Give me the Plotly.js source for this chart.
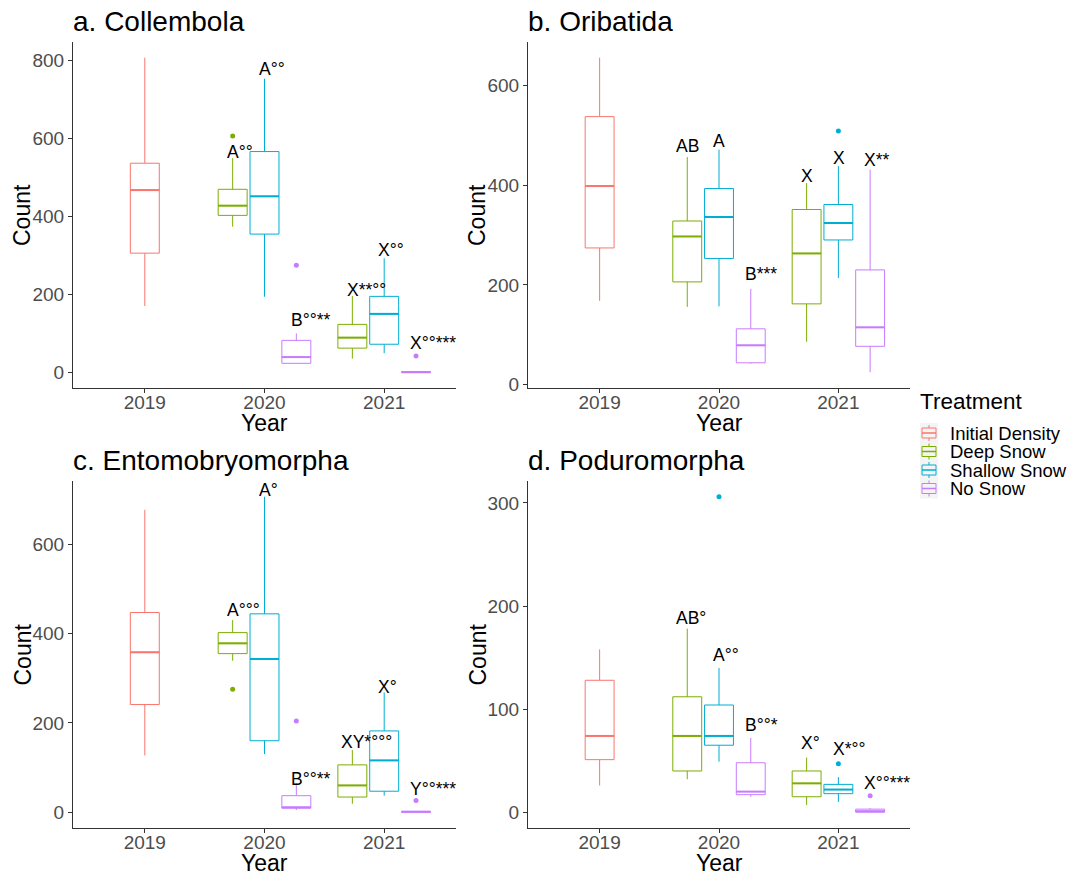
<!DOCTYPE html>
<html><head><meta charset="utf-8">
<script src="https://cdn.plot.ly/plotly-3.0.1.min.js"></script>
<style>html,body{margin:0;padding:0;background:#fff}</style>
</head><body><div id="chart" style="width:1070px;height:875px"></div>
<script>
// ---------- data ----------
const years = ['2019', '2020', '2021'];
const treatments = ['Initial Density', 'Deep Snow', 'Shallow Snow', 'No Snow'];
const boxYear = ['2019', '2020', '2020', '2020', '2021', '2021', '2021'];
const boxTreatment = ['Initial Density', 'Deep Snow', 'Shallow Snow', 'No Snow', 'Deep Snow', 'Shallow Snow', 'No Snow'];

// a. Collembola
const collLow  = [170, 374, 194, 23, 35, 49, 0];
const collQ1   = [306, 403, 355, 23, 62, 72, 0];
const collMed  = [468, 428, 452, 39, 89, 150, 0];
const collQ3   = [537, 470, 567, 82, 123, 195, 2];
const collHigh = [808, 550, 754, 100, 196, 293, 2];
const collOutYear = ['2020', '2020', '2021'];
const collOutTreatment = ['Deep Snow', 'No Snow', 'No Snow'];
const collOutValue = [607, 275, 42];
const collLabel  = ['', 'A°°', 'A°°', 'B°°**', 'X**°°', 'X°°', 'X°°***'];
const collLabelY = [null, 567, 778, 135, 211, 314, 75];

// b. Oribatida
const oribLow  = [168, 156, 157, 42, 86, 214, 25];
const oribQ1   = [274, 206, 253, 44, 162, 290, 77];
const oribMed  = [398, 297, 336, 79, 263, 324, 115];
const oribQ3   = [537, 328, 393, 112, 351, 361, 230];
const oribHigh = [655, 456, 471, 192, 404, 438, 431];
const oribOutYear = ['2021'];
const oribOutTreatment = ['Shallow Snow'];
const oribOutValue = [508];
const oribLabel  = ['', 'AB', 'A', 'B***', 'X', 'X', 'X**'];
const oribLabelY = [null, 478, 488, 222, 419, 454, 451];

// c. Entomobryomorpha
const entoLow  = [127, 339, 130, 5, 19, 37, 0];
const entoQ1   = [241, 355, 160, 9, 34, 47, 0];
const entoMed  = [358, 378, 343, 11, 60, 116, 1];
const entoQ3   = [447, 402, 444, 37, 106, 182, 2];
const entoHigh = [677, 430, 706, 65, 139, 268, 3];
const entoOutYear = ['2020', '2020', '2021'];
const entoOutTreatment = ['Deep Snow', 'No Snow', 'No Snow'];
const entoOutValue = [275, 204, 26];
const entoLabel  = ['', 'A°°°', 'A°', 'B°°**', 'XY*°°°', 'X°', 'Y°°***'];
const entoLabelY = [null, 452, 721, 75, 157, 280, 51];

// d. Poduromorpha
const poduLow  = [26, 32, 49, 15, 7, 10, 0];
const poduQ1   = [51, 40, 65, 17, 15, 18, 0];
const poduMed  = [74, 74, 74, 20, 28, 22, 1];
const poduQ3   = [128, 112, 104, 48, 40, 27, 3];
const poduHigh = [158, 178, 140, 72, 53, 34, 4];
const poduOutYear = ['2020', '2021', '2021'];
const poduOutTreatment = ['Shallow Snow', 'Shallow Snow', 'No Snow'];
const poduOutValue = [306, 47, 16];
const poduLabel  = ['', 'AB°', 'A°°', 'B°°*', 'X°', 'X*°°', 'X°°***'];
const poduLabelY = [null, 188, 153, 85, 67, 61, 28];

const panelTitles = ['a. Collembola', 'b. Oribatida', 'c. Entomobryomorpha', 'd. Poduromorpha'];
const legendTitle = 'Treatment';

// ---------- styling ----------
const W = 1070, H = 875;
const FONT = 'Liberation Sans, Arial, sans-serif';
const colors = {'Initial Density': '#F8766D', 'Deep Snow': '#7CAE00', 'Shallow Snow': '#00AED3', 'No Snow': '#C77CFF'};
const DODGE = 0.266, BOX_W = 0.242, LABEL_SIZE = 17.5;

const panels = [
  {low: collLow, q1: collQ1, med: collMed, q3: collQ3, high: collHigh, oy: collOutYear, ot: collOutTreatment, ov: collOutValue, lab: collLabel, laby: collLabelY, xs: [73, 456], ys: [42, 388], dtick: 200},
  {low: oribLow, q1: oribQ1, med: oribMed, q3: oribQ3, high: oribHigh, oy: oribOutYear, ot: oribOutTreatment, ov: oribOutValue, lab: oribLabel, laby: oribLabelY, xs: [528, 910], ys: [42, 388], dtick: 200},
  {low: entoLow, q1: entoQ1, med: entoMed, q3: entoQ3, high: entoHigh, oy: entoOutYear, ot: entoOutTreatment, ov: entoOutValue, lab: entoLabel, laby: entoLabelY, xs: [73, 456], ys: [481, 828], dtick: 200},
  {low: poduLow, q1: poduQ1, med: poduMed, q3: poduQ3, high: poduHigh, oy: poduOutYear, ot: poduOutTreatment, ov: poduOutValue, lab: poduLabel, laby: poduLabelY, xs: [528, 910], ys: [481, 828], dtick: 100}
];

// dodge positions (like ggplot position_dodge)
const boxPos = boxYear.map((y, i) => {
  const grp = boxYear.map((yy, j) => yy === y ? j : -1).filter(j => j >= 0);
  const k = grp.indexOf(i), n = grp.length;
  return years.indexOf(y) + 1 + (k - (n - 1) / 2) * DODGE;
});
function posOf(year, treat) {
  for (let i = 0; i < boxYear.length; i++) if (boxYear[i] === year && boxTreatment[i] === treat) return boxPos[i];
  return years.indexOf(year) + 1;
}

const canvas = document.createElement('canvas');
const ctx = canvas.getContext('2d');
ctx.font = LABEL_SIZE + 'px "Liberation Sans", Arial, sans-serif';

const traces = [];
const annotations = [];
const shapes = [];
const layout = {
  width: W, height: H, margin: {l: 0, r: 0, t: 0, b: 0},
  paper_bgcolor: '#fff', plot_bgcolor: '#fff',
  font: {family: FONT, color: '#000'},
  boxmode: 'overlay', showlegend: false,
  annotations: annotations, shapes: shapes
};

panels.forEach((p, pi) => {
  const sfx = pi === 0 ? '' : String(pi + 1);
  const xa = 'x' + sfx, ya = 'y' + sfx;
  const all = p.low.concat(p.high, p.ov);
  const mn = Math.min(...all), mx = Math.max(...all), ex = (mx - mn) * 0.05;
  const axisCommon = {showgrid: false, zeroline: false, showline: true, linecolor: '#333', linewidth: 1.1,
    ticks: 'outside', ticklen: 4, tickwidth: 1, tickcolor: '#333', tickfont: {size: 19, color: '#4D4D4D', family: FONT}};
  layout['xaxis' + sfx] = Object.assign({}, axisCommon, {domain: [p.xs[0] / W, p.xs[1] / W], anchor: ya,
    range: [0.4, 3.6], tickmode: 'array', tickvals: years.map((y, i) => i + 1), ticktext: years, ticklabelstandoff: -7});
  layout['yaxis' + sfx] = Object.assign({}, axisCommon, {domain: [1 - p.ys[1] / H, 1 - p.ys[0] / H], anchor: xa,
    range: [mn - ex, mx + ex], dtick: p.dtick, tick0: 0});

  treatments.forEach(t => {
    const idx = boxTreatment.map((tt, i) => tt === t ? i : -1).filter(i => i >= 0);
    traces.push({
      type: 'box', name: t, xaxis: xa, yaxis: ya,
      x: idx.map(i => boxPos[i]),
      q1: idx.map(i => p.q1[i]), median: idx.map(i => p.med[i]), q3: idx.map(i => p.q3[i]),
      lowerfence: idx.map(i => p.low[i]), upperfence: idx.map(i => p.high[i]),
      width: BOX_W, whiskerwidth: 0, boxpoints: false,
      line: {color: colors[t], width: 1}, fillcolor: 'rgba(255,255,255,0)', hoverinfo: 'skip'
    });
    const mx_ = [], my_ = [];
    idx.forEach(i => { mx_.push(boxPos[i] - BOX_W / 2, boxPos[i] + BOX_W / 2, null); my_.push(p.med[i], p.med[i], null); });
    traces.push({type: 'scatter', mode: 'lines', x: mx_, y: my_, xaxis: xa, yaxis: ya,
      line: {color: colors[t], width: 2}, hoverinfo: 'skip'});
    const oi = p.ot.map((tt, i) => tt === t ? i : -1).filter(i => i >= 0);
    if (oi.length) traces.push({type: 'scatter', mode: 'markers', xaxis: xa, yaxis: ya,
      x: oi.map(i => posOf(p.oy[i], t)), y: oi.map(i => p.ov[i]),
      marker: {color: colors[t], size: 5}, hoverinfo: 'skip'});
  });

  p.lab.forEach((txt, i) => {
    if (!txt) return;
    const base = (txt.match(/^[A-Z]+/) || [''])[0];
    const bw = ctx.measureText(base).width;
    annotations.push({xref: xa, yref: ya, x: boxPos[i], y: p.laby[i], text: txt, showarrow: false,
      xanchor: 'left', yanchor: 'middle', xshift: -bw / 2, borderpad: 0, borderwidth: 0,
      font: {size: LABEL_SIZE, color: '#000', family: FONT}});
  });

  annotations.push({xref: 'paper', yref: 'paper', x: p.xs[0] / W, y: 1 - (p.ys[0] - 21) / H, text: panelTitles[pi],
    showarrow: false, xanchor: 'left', yanchor: 'middle', borderpad: 0, borderwidth: 0, font: {size: 28, color: '#000', family: FONT}});
  annotations.push({xref: 'paper', yref: 'paper', x: (p.xs[0] + p.xs[1]) / 2 / W, y: 1 - (p.ys[1] + 35) / H, text: 'Year',
    showarrow: false, xanchor: 'center', yanchor: 'middle', borderpad: 0, borderwidth: 0, font: {size: 23, color: '#000', family: FONT}});
  annotations.push({xref: 'paper', yref: 'paper', x: (p.xs[0] - 51) / W, y: 1 - (p.ys[0] + p.ys[1]) / 2 / H, text: 'Count',
    textangle: -90, showarrow: false, xanchor: 'center', yanchor: 'middle', borderpad: 0, borderwidth: 0, font: {size: 23, color: '#000', family: FONT}});
});

// ---------- legend (ggplot-style keys) ----------
const LX = 920, LY0 = 433, LSTEP = 18.5;
annotations.push({xref: 'paper', yref: 'paper', x: LX / W, y: 1 - 401 / H, text: legendTitle, showarrow: false,
  xanchor: 'left', yanchor: 'middle', borderpad: 0, borderwidth: 0, font: {size: 22.5, color: '#000', family: FONT}});
shapes.push({type: 'rect', xref: 'paper', yref: 'paper', x0: LX / W, x1: (LX + 18) / W,
  y0: 1 - (LY0 - 10) / H, y1: 1 - (LY0 + 3 * LSTEP + 10) / H, fillcolor: '#F4F4F4', line: {width: 0}, layer: 'below'});
treatments.forEach((t, i) => {
  const cy = LY0 + i * LSTEP, cx = LX + 9;
  const c = colors[t];
  shapes.push({type: 'line', xref: 'paper', yref: 'paper', x0: cx / W, x1: cx / W, y0: 1 - (cy - 8) / H, y1: 1 - (cy + 8) / H, line: {color: c, width: 1}});
  shapes.push({type: 'rect', xref: 'paper', yref: 'paper', x0: (cx - 7) / W, x1: (cx + 7) / W, y0: 1 - (cy - 5) / H, y1: 1 - (cy + 5) / H, fillcolor: '#F4F4F4', line: {color: c, width: 1}});
  shapes.push({type: 'line', xref: 'paper', yref: 'paper', x0: (cx - 7) / W, x1: (cx + 7) / W, y0: 1 - cy / H, y1: 1 - cy / H, line: {color: c, width: 1.5}});
  annotations.push({xref: 'paper', yref: 'paper', x: 950 / W, y: 1 - cy / H, text: t, showarrow: false,
    xanchor: 'left', yanchor: 'middle', borderpad: 0, borderwidth: 0, font: {size: 18.5, color: '#000', family: FONT}});
});

Plotly.newPlot('chart', traces, layout, {displayModeBar: false, staticPlot: true});
</script>
</body></html>
